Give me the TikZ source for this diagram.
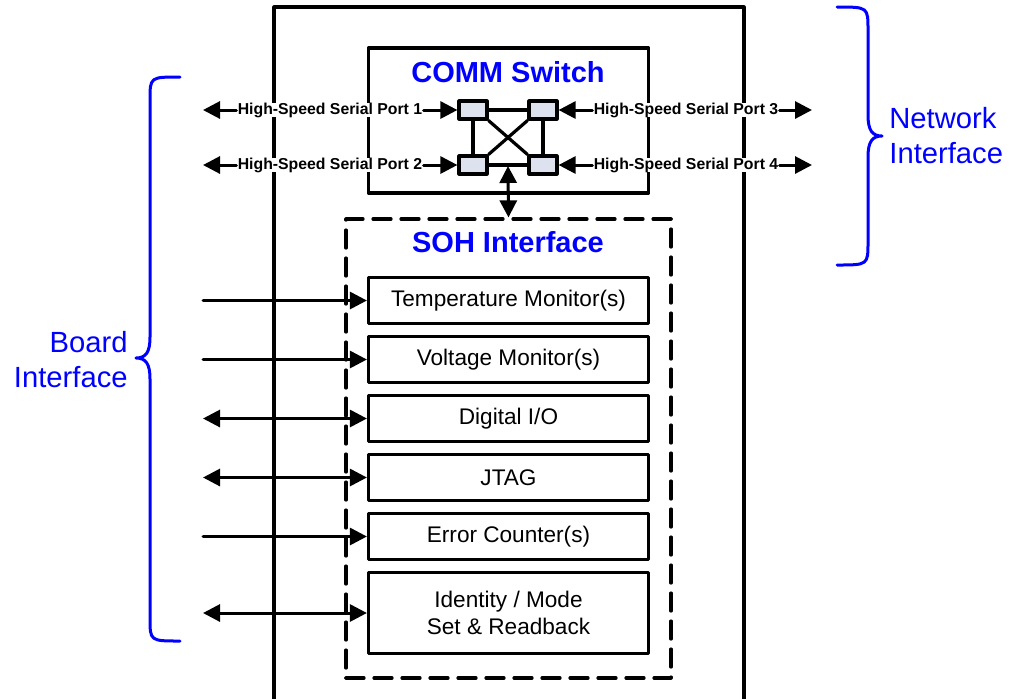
\documentclass[tikz,border=0pt]{standalone}
\usepackage{fontspec}
\setmainfont{Liberation Sans}
\usetikzlibrary{arrows.meta}
\definecolor{sqfill}{RGB}{221,226,238}

\begin{document}
\begin{tikzpicture}[line cap=round,line join=round,>={Triangle[length=8.5pt,width=8.5pt]},x=0.5pt,y=-0.5pt,
  blk/.style={draw,line width=1.6pt,minimum width=140pt,align=center,inner sep=0pt,font=\fontsize{11.3}{13.5}\selectfont},
  sq/.style={draw,line width=1.6pt,fill=sqfill,minimum width=14pt,minimum height=9pt,inner sep=0pt},
  port/.style={fill=white,inner xsep=0.5pt,inner ysep=0pt,font=\fontsize{7.9}{9}\selectfont\bfseries},
  ttl/.style={text=blue,font=\fontsize{14.5}{17}\selectfont\bfseries},
  side/.style={text=blue,align=left,inner sep=0pt,font=\fontsize{14.6}{17.5}\selectfont},
  wire/.style={line width=1.5pt},
  link/.style={line width=1.6pt}]
\useasboundingbox (0,0) rectangle (1011,698);
%board
\draw [line width=1.6pt] (274,705)-- (274,7)-- (744,7)-- (744,705);
%COMM switch
\node[draw,line width=1.6pt,fill=white,minimum width=140pt,minimum height=72.5pt] (comm) at (508.5,120.5) {};
\node[ttl] (commttl) at (508,72) {COMM Switch};
\node[sq] (sq1) at (473,110) {};
\node[sq] (sq3) at (543,110) {};
\node[sq] (sq2) at (473,165) {};
\node[sq] (sq4) at (543,165) {};
\draw [link] (sq1)-- (sq3);
\draw [link] (sq2)-- (sq4);
\draw [link] (sq1)-- (sq2);
\draw [link] (sq3)-- (sq4);
\draw [link] (sq1.south east)-- (sq4.north west);
\draw [link] (sq3.south west)-- (sq2.north east);
\node[port] (p1) at (330,110) {High-Speed Serial Port 1};
\node[port] (p2) at (330,165) {High-Speed Serial Port 2};
\node[port] (p3) at (686,110) {High-Speed Serial Port 3};
\node[port] (p4) at (686,165) {High-Speed Serial Port 4};
\coordinate (p1out) at (203,110);
\coordinate (p2out) at (203,165);
\coordinate (p3out) at (812,110);
\coordinate (p4out) at (812,165);
\draw [wire,->] (p1)-- (p1out);
\draw [wire,->] (p1)-- (sq1);
\draw [wire,->] (p2)-- (p2out);
\draw [wire,->] (p2)-- (sq2);
\draw [wire,->] (p3)-- (p3out);
\draw [wire,->] (p3)-- (sq3);
\draw [wire,->] (p4)-- (p4out);
\draw [wire,->] (p4)-- (sq4);
%SOH interface
\node[draw,line width=1.6pt,dash pattern=on 9pt off 5pt,minimum width=162.5pt,minimum height=229.5pt] (soh) at (508.5,448.5) {};
\node[ttl] (sohttl) at (508,242) {SOH Interface};
\coordinate (bus) at (508,166);
\draw [wire,<->] (bus)-- (soh.north);
\node[blk,minimum height=23pt] (temp) at (508.5,300.5) {Temperature Monitor(s)};
\node[blk,minimum height=23pt] (volt) at (508.5,359.5) {Voltage Monitor(s)};
\node[blk,minimum height=23pt] (dio) at (508.5,418.5) {Digital I/O};
\node[blk,minimum height=23pt] (jtag) at (508.5,477.5) {JTAG};
\node[blk,minimum height=23pt] (err) at (508.5,536.5) {Error Counter(s)};
\node[blk,minimum height=40.5pt] (ident) at (508.5,613) {Identity / Mode\\Set \& Readback};
\coordinate (tempin) at (203,300.5);
\coordinate (voltin) at (203,359.5);
\coordinate (dioin) at (203,418.5);
\coordinate (jtagin) at (203,477.5);
\coordinate (errin) at (203,536.5);
\coordinate (identin) at (203,613);
\draw [wire,->] (tempin)-- (temp);
\draw [wire,->] (voltin)-- (volt);
\draw [wire,<->] (dioin)-- (dio);
\draw [wire,<->] (jtagin)-- (jtag);
\draw [wire,->] (errin)-- (err);
\draw [wire,<->] (identin)-- (ident);
%braces
\draw [blue,line width=1.5pt] (180,77) .. controls (150,77) .. (150,100)-- (150,337) .. controls (150,352) and (146,358) .. (136,358) .. controls (146,358) and (150,364) .. (150,379)-- (150,618) .. controls (150,641) .. (180,641);
\node[side,align=right,anchor=east] (boardlbl) at (128,360) {Board\\Interface};
\draw [blue,line width=1.5pt] (837,7) .. controls (868,7) .. (868,30)-- (868,115) .. controls (868,130) and (872,136) .. (882,136) .. controls (872,136) and (868,142) .. (868,157)-- (868,242) .. controls (868,265) .. (837,265);
\node[side,anchor=west] (netlbl) at (889,136) {Network\\Interface};
\end{tikzpicture}
\end{document}
